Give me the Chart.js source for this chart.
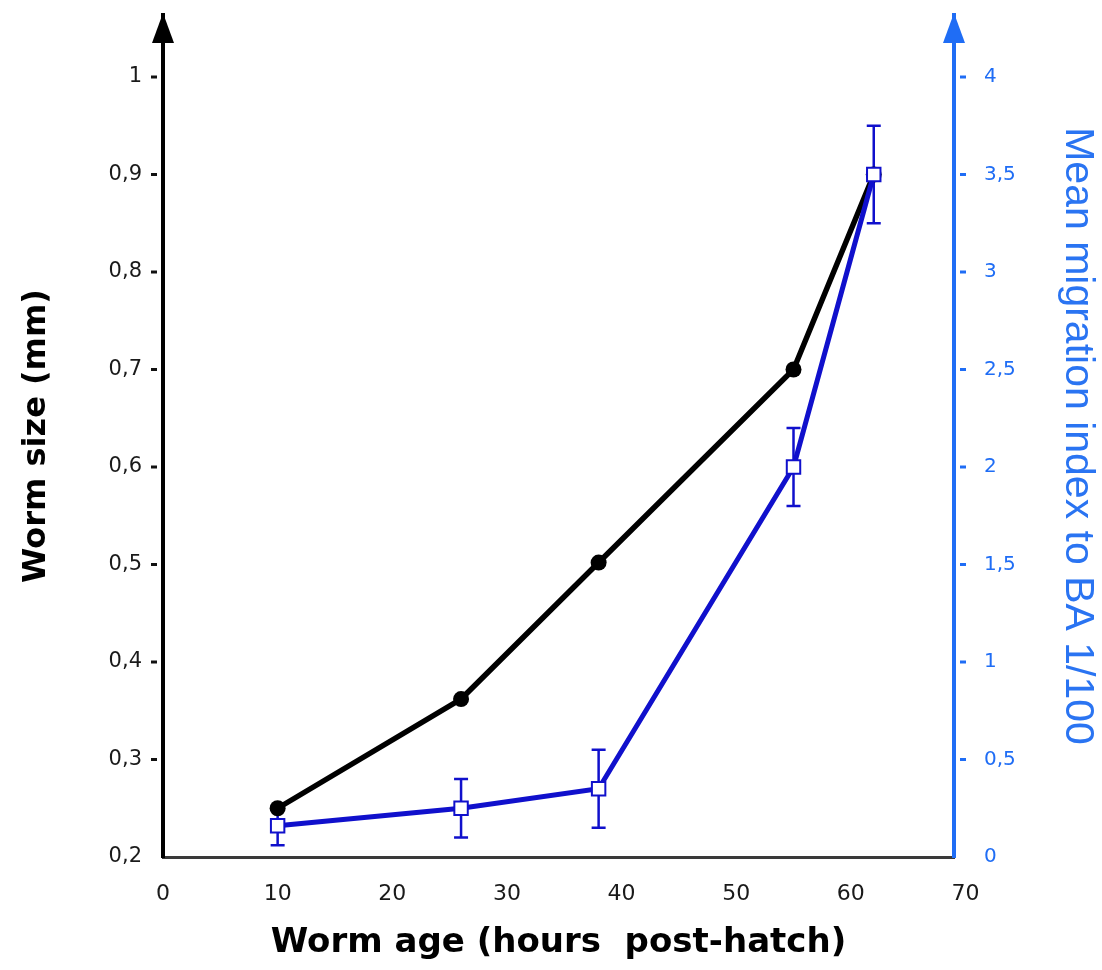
<!DOCTYPE html>
<html>
<head>
<meta charset="utf-8">
<script src="https://cdn.jsdelivr.net/npm/chart.js@4.4.0/dist/chart.umd.min.js"></script>
<style>
  html, body { margin: 0; padding: 0; background: #fff; }
  #wrap { width: 1102px; height: 970px; position: relative; }
</style>
</head>
<body>
<div id="wrap"><canvas id="chart"></canvas></div>
<script>
// --- Data ---
const ages = [10, 26, 38, 55, 62];
const wormSize = [0.25, 0.362, 0.502, 0.70, 0.90];
const migration = [0.16, 0.25, 0.35, 2.0, 3.5];
const migrationErr = [0.1, 0.15, 0.2, 0.2, 0.25];

const xTicks = [0, 10, 20, 30, 40, 50, 60, 70];
const sizeTicks = [0.2, 0.3, 0.4, 0.5, 0.6, 0.7, 0.8, 0.9, 1];
const migTicks = [0, 0.5, 1, 1.5, 2, 2.5, 3, 3.5, 4];

const BLACK = '#000000';
const DARK_BLUE = '#1010cc';
const AXIS_BLUE = '#1f6df5';
const NONE = 'rgba(0,0,0,0)';

const commaFmt = v => String(v).replace('.', ',');

// --- Plugins ---
// error bars for the migration series, drawn before points so squares sit on top
const errorBars = {
    id: 'errorBars',
    beforeDatasetsDraw(chart) {
        const ctx = chart.ctx;
        const xs = chart.scales.x;
        const ys = chart.scales.yMig;
        ctx.save();
        ctx.strokeStyle = DARK_BLUE;
        ctx.lineWidth = 2.5;
        migration.forEach((v, i) => {
            const px = xs.getPixelForValue(ages[i]);
            const top = ys.getPixelForValue(v + migrationErr[i]);
            const bot = ys.getPixelForValue(v - migrationErr[i]);
            ctx.beginPath();
            ctx.moveTo(px, top); ctx.lineTo(px, bot);
            ctx.moveTo(px - 7, top); ctx.lineTo(px + 7, top);
            ctx.moveTo(px - 7, bot); ctx.lineTo(px + 7, bot);
            ctx.stroke();
        });
        ctx.restore();
    }
};

// small detached tick dashes + arrow heads on both y axes
const axisDecor = {
    id: 'axisDecor',
    afterDraw(chart) {
        const ctx = chart.ctx;
        const area = chart.chartArea;
        const left = chart.scales.ySize;
        const right = chart.scales.yMig;
        ctx.save();
        ctx.lineWidth = 3;
        ctx.strokeStyle = '#111';
        sizeTicks.slice(1).forEach(v => {
            const py = left.getPixelForValue(v);
            ctx.beginPath();
            ctx.moveTo(area.left - 12, py);
            ctx.lineTo(area.left - 6, py);
            ctx.stroke();
        });
        ctx.strokeStyle = AXIS_BLUE;
        migTicks.slice(1).forEach(v => {
            const py = right.getPixelForValue(v);
            ctx.beginPath();
            ctx.moveTo(area.right + 6, py);
            ctx.lineTo(area.right + 12, py);
            ctx.stroke();
        });
        const heads = [
            { x: area.left, color: BLACK },
            { x: area.right, color: AXIS_BLUE }
        ];
        heads.forEach(h => {
            ctx.fillStyle = h.color;
            ctx.beginPath();
            ctx.moveTo(h.x, area.top - 2);
            ctx.lineTo(h.x - 11, area.top + 28);
            ctx.lineTo(h.x + 11, area.top + 28);
            ctx.closePath();
            ctx.fill();
        });
        ctx.restore();
    }
};

// --- Chart ---
const ctx = document.getElementById('chart').getContext('2d');

new Chart(ctx, {
    type: 'line',
    data: {
        datasets: [{
            label: 'Mean migration index',
            data: ages.map((a, i) => ({ x: a, y: migration[i] })),
            yAxisID: 'yMig',
            borderColor: DARK_BLUE,
            borderWidth: 5,
            pointStyle: 'rect',
            pointRadius: 9.5,
            pointBorderWidth: 2,
            pointBorderColor: DARK_BLUE,
            pointBackgroundColor: '#ffffff',
            tension: 0,
            order: 0
        }, {
            label: 'Worm size',
            data: ages.map((a, i) => ({ x: a, y: wormSize[i] })),
            yAxisID: 'ySize',
            borderColor: BLACK,
            borderWidth: 5.5,
            pointStyle: 'circle',
            pointRadius: 8,
            pointBorderWidth: 0,
            pointBackgroundColor: BLACK,
            tension: 0,
            order: 1
        }]
    },
    options: {
        responsive: true,
        maintainAspectRatio: false,
        animation: false,
        layout: { padding: { top: 15, left: 0, right: 0, bottom: 0 } },
        plugins: {
            legend: { display: false },
            tooltip: { enabled: false }
        },
        scales: {
            x: {
                type: 'linear',
                min: 0,
                max: 69,
                afterBuildTicks: s => { s.ticks = xTicks.map(v => ({ value: v })); },
                afterFit: s => { s.height = 113; },
                border: { color: '#3a3a3a', width: 3 },
                grid: { drawOnChartArea: false, drawTicks: false },
                ticks: {
                    autoSkip: false,
                    maxRotation: 0,
                    padding: 24,
                    color: '#1a1a1a',
                    font: { family: 'DejaVu Sans', size: 22 }
                },
                title: {
                    display: true,
                    text: 'Worm age (hours  post-hatch)',
                    color: '#000',
                    font: { family: 'DejaVu Sans', size: 34, weight: 'bold' },
                    padding: { top: 0, bottom: 6 }
                }
            },
            ySize: {
                type: 'linear',
                position: 'left',
                min: 0.2,
                max: 1.0636,
                afterBuildTicks: s => { s.ticks = sizeTicks.map(v => ({ value: v })); },
                afterFit: s => { s.width = 163; },
                border: { color: BLACK, width: 4 },
                grid: { drawOnChartArea: false, tickLength: 19, tickColor: NONE },
                ticks: {
                    padding: 2,
                    color: '#1a1a1a',
                    font: { family: 'DejaVu Sans', size: 21 },
                    callback: v => commaFmt(v)
                },
                title: {
                    display: true,
                    text: 'Worm size (mm)',
                    color: '#000',
                    font: { family: 'DejaVu Sans', size: 32, weight: 'bold' },
                    padding: { top: 17, bottom: 0 }
                }
            },
            yMig: {
                type: 'linear',
                position: 'right',
                min: 0,
                max: 4.318,
                afterBuildTicks: s => { s.ticks = migTicks.map(v => ({ value: v })); },
                afterFit: s => { s.width = 148; },
                border: { color: AXIS_BLUE, width: 4 },
                grid: { drawOnChartArea: false, tickLength: 28, tickColor: NONE },
                ticks: {
                    padding: 2,
                    color: AXIS_BLUE,
                    font: { family: 'DejaVu Sans', size: 20 },
                    callback: v => commaFmt(v)
                },
                title: {
                    display: true,
                    text: 'Mean migration index to BA 1/100',
                    color: '#2a74f2',
                    font: { family: 'Liberation Sans', size: 41 },
                    padding: { top: 0, bottom: 0 }
                }
            }
        }
    },
    plugins: [errorBars, axisDecor]
});
</script>
</body>
</html>
